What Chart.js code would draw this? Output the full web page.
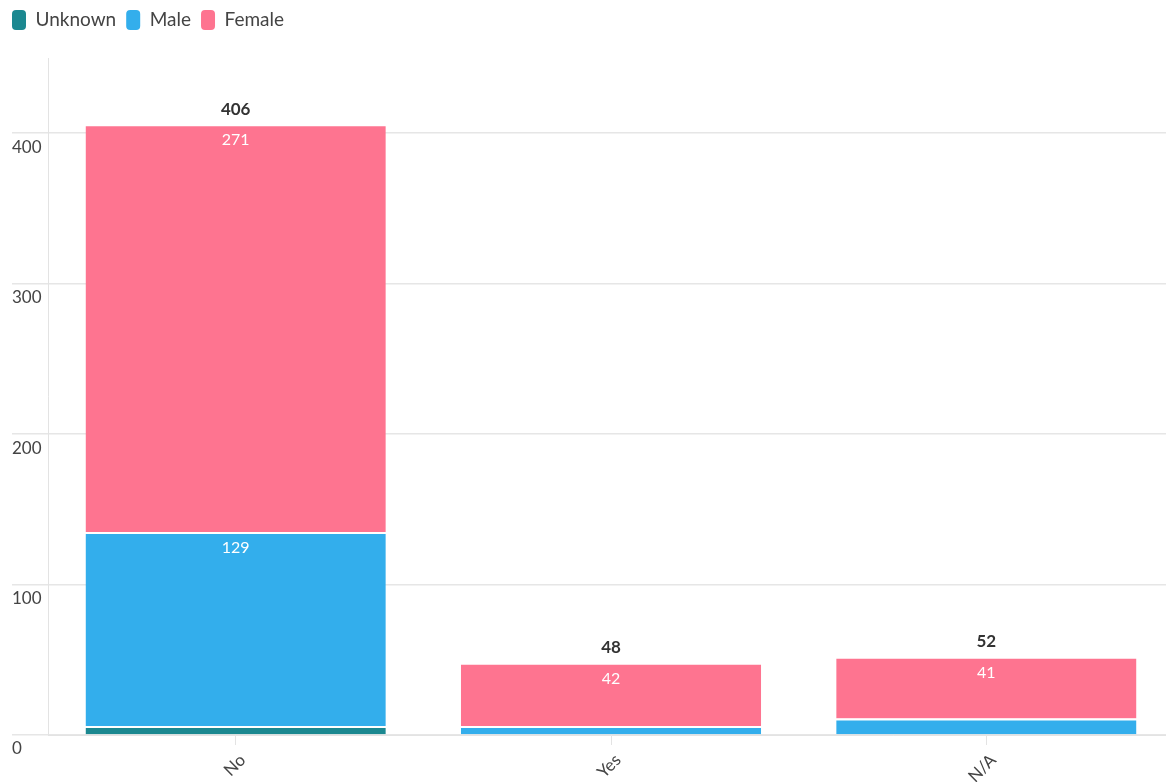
<!DOCTYPE html>
<html>
<head>
<meta charset="utf-8">
<script src="https://cdn.jsdelivr.net/npm/chart.js@4/dist/chart.umd.min.js"></script>
<style>
  body { margin: 0; background: #fff; overflow: hidden; }
  .wrap { width: 1174px; height: 782px; position: relative; }
</style>
</head>
<body>
<div class="wrap"><canvas id="chart"></canvas></div>
<script>
const categories = ['No', 'Yes', 'N/A'];
const unknownCounts = [6, 0, 0];
const maleCounts = [129, 6, 11];
const femaleCounts = [271, 42, 41];
const yTicks = [0, 100, 200, 300, 400];

const colors = {
  unknown: '#1b8890',
  male: '#33aeec',
  female: '#fe7490'
};

// labels on the bars: white value inside segment, bold total on top
const barLabels = {
  id: 'barLabels',
  afterDatasetsDraw(chart) {
    const ctx = chart.ctx;
    ctx.save();
    ctx.textAlign = 'center';
    ctx.textBaseline = 'middle';
    ctx.font = '16px Lato';
    ctx.fillStyle = '#fff';
    chart.data.datasets.forEach((ds, i) => {
      const meta = chart.getDatasetMeta(i);
      meta.data.forEach((bar, j) => {
        if (ds.data[j] < 20) return;
        ctx.fillText(ds.data[j], bar.x, bar.y + 16);
      });
    });
    const last = chart.getDatasetMeta(chart.data.datasets.length - 1);
    ctx.font = 'bold 17px Lato';
    ctx.fillStyle = '#333';
    categories.forEach((c, j) => {
      const total = unknownCounts[j] + maleCounts[j] + femaleCounts[j];
      ctx.fillText(total, last.data[j].x, last.data[j].y - 15);
    });
    ctx.restore();
  }
};

// more room under the legend, and pull it to the left edge
const legendSpace = {
  id: 'legendSpace',
  beforeInit(chart) {
    const fit = chart.legend.fit;
    chart.legend.fit = function () {
      fit.bind(chart.legend)();
      this.height += 18;
    };
  },
  afterLayout(chart) {
    chart.legend.left -= 10;
    chart.legend.right -= 10;
  }
};

const makeSet = function (label, data, color) {
  return {
    label: label,
    data: data,
    backgroundColor: color,
    borderColor: '#fff',
    borderWidth: { top: 2, left: 0, right: 0, bottom: 0 },
    borderSkipped: 'bottom',
    barPercentage: 0.8,
    categoryPercentage: 1
  };
};

new Chart(document.getElementById('chart'), {
  type: 'bar',
  data: {
    labels: categories,
    datasets: [
      makeSet('Unknown', unknownCounts, colors.unknown),
      makeSet('Male', maleCounts, colors.male),
      makeSet('Female', femaleCounts, colors.female)
    ]
  },
  options: {
    responsive: true,
    maintainAspectRatio: false,
    animation: false,
    layout: { padding: { left: 12, top: 0, right: 0, bottom: 0 } },
    plugins: {
      tooltip: { enabled: false },
      legend: {
        position: 'top',
        align: 'start',
        labels: {
          font: { family: 'Lato', size: 19 },
          color: '#444',
          boxWidth: 14,
          boxHeight: 20,
          padding: 10,
          generateLabels: function (chart) {
            return chart.data.datasets.map((ds, i) => ({
              text: ds.label,
              fillStyle: ds.backgroundColor,
              strokeStyle: ds.backgroundColor,
              lineWidth: 0,
              borderRadius: 4,
              fontColor: '#444',
              hidden: false,
              datasetIndex: i
            }));
          },
          useBorderRadius: true,
          borderRadius: 4
        }
      }
    },
    scales: {
      x: {
        stacked: true,
        grid: { drawOnChartArea: false, offset: false, tickLength: 10, color: '#e3e3e3' },
        border: { color: '#e3e3e3' },
        ticks: {
          font: { family: 'Lato', size: 17 },
          color: '#444',
          minRotation: 45,
          maxRotation: 45,
          padding: 5,
          labelOffset: 7
        },
        afterFit: function (scale) { scale.height = 47; }
      },
      y: {
        stacked: true,
        min: 0,
        max: 450,
        grid: { color: '#e6e6e6', tickLength: 36, lineWidth: 1.5 },
        border: { color: '#e3e3e3' },
        afterBuildTicks: function (scale) {
          scale.ticks = yTicks.map(v => ({ value: v }));
        },
        ticks: {
          font: { family: 'Lato', size: 17 },
          color: '#444',
          crossAlign: 'far',
          padding: 0,
          labelOffset: 14
        },
        afterFit: function (scale) { scale.width = 36; }
      }
    }
  },
  plugins: [barLabels, legendSpace]
});
</script>
</body>
</html>
